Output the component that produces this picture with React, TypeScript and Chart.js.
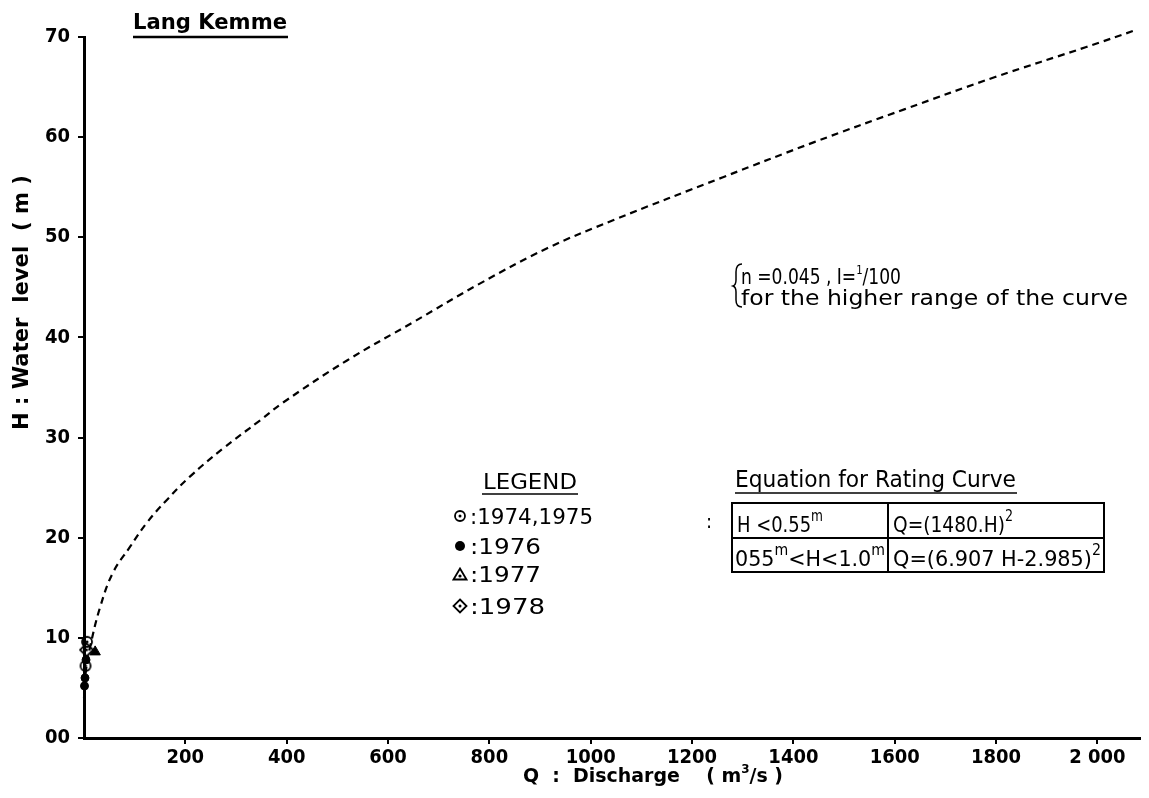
import { useEffect, useRef } from 'react';
import { Chart, registerables } from 'chart.js';

Chart.register(...registerables);

// ---- data ----
const curveQ = [0, 4, 12, 32, 57, 91, 124, 164, 209, 274, 347, 393, 519, 649, 782, 914, 1044, 1261, 1441, 1620, 1798, 1978, 2076];
const curveH = [4.0, 6.8, 9.1, 13.1, 16.5, 19.1, 21.5, 23.8, 26.1, 28.9, 31.7, 33.5, 37.7, 41.5, 45.4, 48.9, 51.7, 56.0, 59.5, 62.8, 66.0, 69.0, 70.7];

const obs1974Q = [6, 3];
const obs1974H = [9.6, 7.2];
const obs1976Q = [2, 4, 1];
const obs1976H = [6.0, 7.8, 5.2];
const obs1977Q = [22];
const obs1977H = [8.6];
const obs1978Q = [5];
const obs1978H = [8.8];

const xTickValues = [200, 400, 600, 800, 1000, 1200, 1400, 1600, 1800, 2000];
const xTickLabels = ['200', '400', '600', '800', '1000', '1200', '1400', '1600', '1800', '2 000'];
const yTickValues = [0, 10, 20, 30, 40, 50, 60, 70];
const yTickLabels = ['00', '10', '20', '30', '40', '50', '60', '70'];

const legendLabels = [':1974,1975', ':1976', ':1977', ':1978'];

const NARROW = '"Liberation Sans Narrow", "DejaVu Sans Condensed", sans-serif';
const SANS = '"DejaVu Sans", sans-serif';

type Run = { text: string; font: string; dy?: number };

function drawRuns(ctx: CanvasRenderingContext2D, runs: Run[], x: number, y: number, target?: number) {
  const widths = runs.map((r) => {
    ctx.font = r.font;
    return ctx.measureText(r.text).width;
  });
  const total = widths.reduce((a, b) => a + b, 0);
  const s = target ? target / total : 1;
  ctx.save();
  ctx.translate(x, y);
  ctx.scale(s, 1);
  ctx.textAlign = 'left';
  ctx.textBaseline = 'alphabetic';
  let cx = 0;
  runs.forEach((r, i) => {
    ctx.font = r.font;
    ctx.fillText(r.text, cx, r.dy || 0);
    cx += widths[i];
  });
  ctx.restore();
}

function makeCircleDot(): HTMLCanvasElement {
  const c = document.createElement('canvas');
  c.width = 14; c.height = 14;
  const g = c.getContext('2d')!;
  g.strokeStyle = '#000'; g.lineWidth = 1.8;
  g.beginPath(); g.arc(7, 7, 5, 0, Math.PI * 2); g.stroke();
  g.fillStyle = '#000';
  g.beginPath(); g.arc(7, 7, 1.5, 0, Math.PI * 2); g.fill();
  return c;
}
function makeDiamondDot(): HTMLCanvasElement {
  const c = document.createElement('canvas');
  c.width = 16; c.height = 16;
  const g = c.getContext('2d')!;
  g.strokeStyle = '#000'; g.lineWidth = 1.8;
  g.beginPath(); g.moveTo(8, 1.5); g.lineTo(14.5, 8); g.lineTo(8, 14.5); g.lineTo(1.5, 8); g.closePath(); g.stroke();
  g.fillStyle = '#000';
  g.beginPath(); g.arc(8, 8, 1.5, 0, Math.PI * 2); g.fill();
  return c;
}
function makeTriangleDot(): HTMLCanvasElement {
  const c = document.createElement('canvas');
  c.width = 16; c.height = 14;
  const g = c.getContext('2d')!;
  g.strokeStyle = '#000'; g.lineWidth = 1.8;
  g.beginPath(); g.moveTo(8, 1.5); g.lineTo(14.5, 12.5); g.lineTo(1.5, 12.5); g.closePath(); g.stroke();
  g.fillStyle = '#000';
  g.beginPath(); g.arc(8, 9, 1.6, 0, Math.PI * 2); g.fill();
  return c;
}

const annotations = {
  id: 'annotations',
  afterDraw(chart: any) {
    const ctx: CanvasRenderingContext2D = chart.ctx;
    const imgs = chart.options.plugins.annotations.images;
    ctx.save();
    ctx.fillStyle = '#000';
    ctx.strokeStyle = '#000';

    // Title
    drawRuns(ctx, [{ text: 'Lang Kemme', font: `bold 21px ${SANS}` }], 133, 29, 154);
    ctx.lineWidth = 2.5;
    ctx.beginPath(); ctx.moveTo(133, 37); ctx.lineTo(288, 37); ctx.stroke();

    // Y axis title
    ctx.save();
    ctx.translate(28, 303);
    ctx.rotate(-Math.PI / 2);
    drawRuns(ctx, [{ text: 'H : Water  level  ( m )', font: `bold 22px ${NARROW}` }], -127, 0, 255);
    ctx.restore();

    // X axis title
    drawRuns(ctx, [
      { text: 'Q  :  Discharge    ( m', font: `bold 19px ${NARROW}` },
      { text: '3', font: `bold 12px ${NARROW}`, dy: -9 },
      { text: '/s )', font: `bold 19px ${NARROW}` },
    ], 523, 782, 260);

    // n / I note with brace
    drawRuns(ctx, [
      { text: 'n =0.045 , I=', font: `22px ${NARROW}` },
      { text: '1', font: `13px ${NARROW}`, dy: -10 },
      { text: '/100', font: `22px ${NARROW}` },
    ], 741, 284, 160);
    drawRuns(ctx, [{ text: 'for the higher range of the curve', font: `22px ${NARROW}` }], 741, 305, 387);
    ctx.lineWidth = 1.5;
    ctx.beginPath();
    ctx.moveTo(742, 264);
    ctx.quadraticCurveTo(736, 264, 736, 272);
    ctx.lineTo(736, 280);
    ctx.quadraticCurveTo(736, 285, 733, 286);
    ctx.quadraticCurveTo(736, 287, 736, 292);
    ctx.lineTo(736, 300);
    ctx.quadraticCurveTo(736, 307, 742, 307);
    ctx.stroke();

    // Legend
    drawRuns(ctx, [{ text: 'LEGEND', font: `21px ${SANS}` }], 483, 489, 94);
    ctx.lineWidth = 1.5;
    ctx.beginPath(); ctx.moveTo(482, 494); ctx.lineTo(578, 494); ctx.stroke();
    const rowsY = [516, 546, 574, 606];
    const rowW = [123, 71, 71, 75];
    legendLabels.forEach((lab, i) => {
      const cy = rowsY[i];
      if (i === 1) {
        ctx.beginPath(); ctx.arc(460, cy, 5, 0, Math.PI * 2); ctx.fill();
      } else {
        const im = imgs[i];
        ctx.drawImage(im, 460 - im.width / 2, cy - im.height / 2);
      }
      drawRuns(ctx, [{ text: lab, font: `22px ${NARROW}` }], 470, cy + 8, rowW[i]);
    });

    // stray colon
    drawRuns(ctx, [{ text: ':', font: `20px ${NARROW}` }], 706, 528);

    // Equation box
    drawRuns(ctx, [{ text: 'Equation for Rating Curve', font: `23px ${NARROW}` }], 735, 487, 281);
    ctx.lineWidth = 1.5;
    ctx.beginPath(); ctx.moveTo(735, 493); ctx.lineTo(1017, 493); ctx.stroke();
    ctx.lineWidth = 2;
    ctx.strokeRect(732, 503, 372, 69);
    ctx.beginPath();
    ctx.moveTo(732, 538); ctx.lineTo(1104, 538);
    ctx.moveTo(888, 503); ctx.lineTo(888, 572);
    ctx.stroke();
    const f20 = `22px ${NARROW}`;
    const fs = `15px ${NARROW}`;
    drawRuns(ctx, [
      { text: 'H <0.55', font: f20 },
      { text: 'm', font: fs, dy: -11 },
    ], 737, 532, 86);
    drawRuns(ctx, [
      { text: 'Q=(1480.H)', font: f20 },
      { text: '2', font: fs, dy: -11 },
    ], 893, 532, 120);
    drawRuns(ctx, [
      { text: '055', font: f20 },
      { text: 'm', font: fs, dy: -11 },
      { text: '<H<1.0', font: f20 },
      { text: 'm', font: fs, dy: -11 },
    ], 735, 566, 150);
    drawRuns(ctx, [
      { text: 'Q=(6.907 H-2.985)', font: f20 },
      { text: '2', font: fs, dy: -11 },
    ], 893, 566, 208);

    ctx.restore();
  },
};

export default function App() {
  const ref = useRef<HTMLCanvasElement | null>(null);

  useEffect(() => {
    document.body.style.margin = '0';
    const canvas = ref.current;
    if (!canvas) return;
    const circleDot = makeCircleDot();
    const diamondDot = makeDiamondDot();
    const triangleDot = makeTriangleDot();

    const toPts = (qs: number[], hs: number[]) => qs.map((q, i) => ({ x: q, y: hs[i] }));

    const chart = new Chart(canvas, {
      type: 'scatter',
      data: {
        datasets: [
          {
            type: 'line',
            label: 'Rating curve',
            data: toPts(curveQ, curveH),
            borderColor: '#000',
            borderWidth: 2.2,
            borderDash: [7, 5],
            pointRadius: 0,
            fill: false,
            tension: 0.4,
            clip: false,
          } as any,
          {
            label: '1974,1975',
            data: toPts(obs1974Q, obs1974H),
            pointStyle: circleDot,
            clip: false,
          } as any,
          {
            label: '1976',
            data: toPts(obs1976Q, obs1976H),
            pointStyle: 'circle',
            pointRadius: 4,
            backgroundColor: '#000',
            borderColor: '#000',
            clip: false,
          } as any,
          {
            label: '1977',
            data: toPts(obs1977Q, obs1977H),
            pointStyle: 'triangle',
            pointRadius: 6,
            backgroundColor: '#000',
            borderColor: '#000',
            clip: false,
          } as any,
          {
            label: '1978',
            data: toPts(obs1978Q, obs1978H),
            pointStyle: diamondDot,
            clip: false,
          } as any,
        ],
      },
      options: {
        responsive: false,
        animation: false,
        events: [],
        layout: { padding: { top: 37, right: 9, left: 0, bottom: 0 } },
        plugins: {
          legend: { display: false },
          tooltip: { enabled: false },
          annotations: { images: [circleDot, null, triangleDot, diamondDot] },
        } as any,
        scales: {
          x: {
            type: 'linear',
            min: 0,
            max: 2084,
            afterBuildTicks: (s: any) => {
              s.ticks = xTickValues.map((v) => ({ value: v }));
            },
            afterFit: (s: any) => {
              s.height = 60;
            },
            grid: { display: true, drawOnChartArea: false, drawTicks: true, tickLength: 6, color: '#000', lineWidth: 2 },
            border: { display: true, color: '#000', width: 3 },
            ticks: {
              autoSkip: false,
              maxRotation: 0,
              padding: 2,
              color: '#000',
              font: { family: NARROW, size: 20, weight: 'bold' },
              callback: (v: any) => {
                const i = xTickValues.indexOf(Number(v));
                return i >= 0 ? xTickLabels[i] : '';
              },
            },
          },
          y: {
            type: 'linear',
            min: 0,
            max: 70,
            afterBuildTicks: (s: any) => {
              s.ticks = yTickValues.map((v) => ({ value: v }));
            },
            afterFit: (s: any) => {
              s.width = 84;
            },
            grid: { display: true, drawOnChartArea: false, drawTicks: true, tickLength: 6, color: '#000', lineWidth: 2 },
            border: { display: true, color: '#000', width: 3 },
            ticks: {
              padding: 8,
              color: '#000',
              font: { family: NARROW, size: 20, weight: 'bold' },
              callback: (v: any) => {
                const i = yTickValues.indexOf(Number(v));
                return i >= 0 ? yTickLabels[i] : '';
              },
            },
          },
        },
      } as any,
      plugins: [annotations],
    });

    return () => chart.destroy();
  }, []);

  return (
    <div style={{ width: 1149, height: 798, background: '#fff' }}>
      <canvas ref={ref} width={1149} height={798} style={{ display: 'block' }} />
    </div>
  );
}
